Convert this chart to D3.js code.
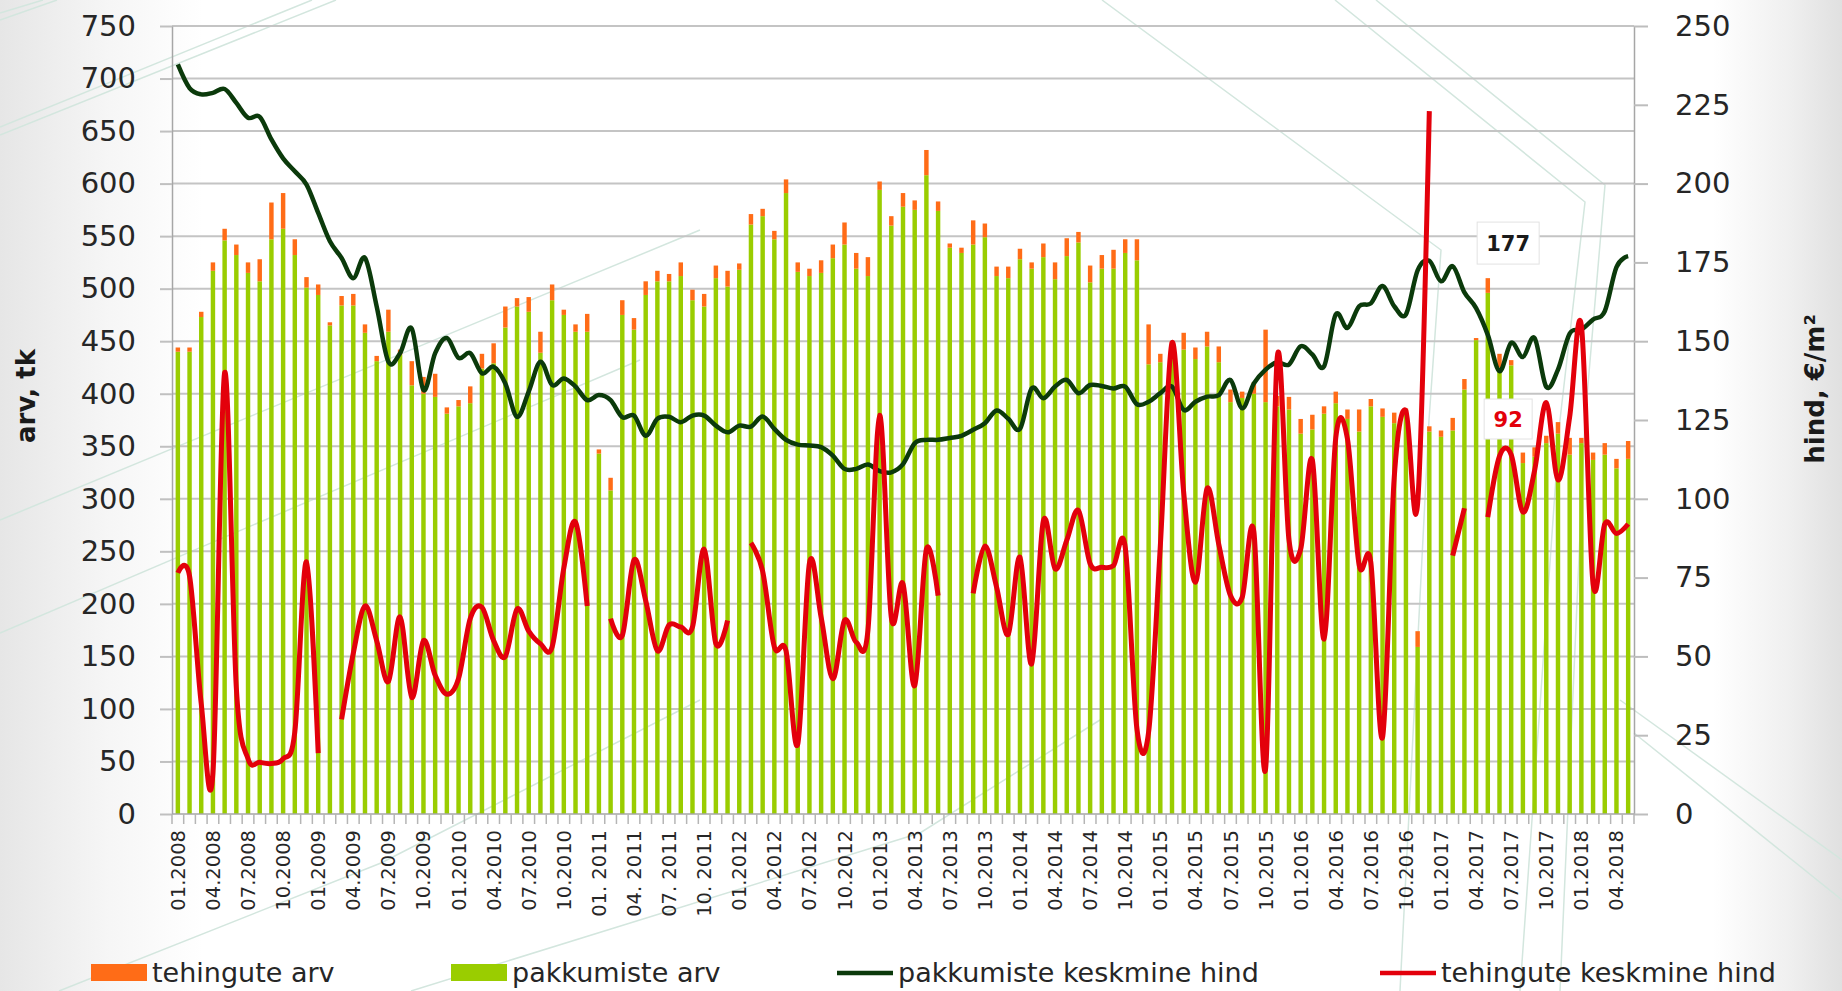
<!DOCTYPE html>
<html>
<head>
<meta charset="utf-8">
<script src="https://cdn.jsdelivr.net/npm/d3@7"></script>
<style>
  body { margin: 0; background: #fff; }
  svg text { font-family: "DejaVu Sans", sans-serif; }
</style>
</head>
<body>
<div id="chart"></div>
<script>
// Tick labels under the axis, one every 3rd month (the 2011 ones have a space in the source)
const tickLabels = [
  "01.2008", "04.2008", "07.2008", "10.2008",
  "01.2009", "04.2009", "07.2009", "10.2009",
  "01.2010", "04.2010", "07.2010", "10.2010",
  "01. 2011", "04. 2011", "07. 2011", "10. 2011",
  "01.2012", "04.2012", "07.2012", "10.2012",
  "01.2013", "04.2013", "07.2013", "10.2013",
  "01.2014", "04.2014", "07.2014", "10.2014",
  "01.2015", "04.2015", "07.2015", "10.2015",
  "01.2016", "04.2016", "07.2016", "10.2016",
  "01.2017", "04.2017", "07.2017", "10.2017",
  "01.2018", "04.2018"
];

// pakkumiste arv (green part of the column), 01.2008 .. 05.2018
const offers = [
  440, 440, 473, 517, 546, 532, 515, 507, 547, 557,
  532, 501, 494, 465, 484, 484, 458, 431, 459, 437,
  408, 400, 397, 381, 388, 391, 424, 429, 463, 483,
  478, 439, 489, 475, 459, 459, 343, 308, 475, 461,
  494, 507, 507, 512, 489, 483, 510, 502, 518, 561,
  569, 547, 591, 516, 512, 515, 529, 542, 519, 512,
  594, 560, 578, 575, 608, 574, 539, 534, 542, 549,
  512, 510, 528, 519, 530, 509, 531, 544, 506, 519,
  519, 534, 527, 428, 430, 440, 442, 433, 445, 430,
  392, 396, 400, 392, 388, 385, 362, 366, 381, 391,
  376, 364, 388, 378, 372, 380, 159, 364, 359, 365,
  404, 451, 496, 425, 427, 334, 340, 353, 362, 342,
  353, 337, 342, 329, 338
];

// tehingute arv (orange part stacked on top)
const deals = [
  4, 4, 5, 8, 11, 10, 10, 21, 35, 34,
  15, 10, 10, 3, 9, 11, 8, 5, 21, 5,
  23, 16, 22, 6, 6, 16, 14, 19, 20, 8,
  14, 20, 15, 5, 7, 17, 4, 12, 14, 11,
  13, 10, 7, 13, 10, 12, 12, 15, 6, 10,
  7, 8, 13, 9, 7, 12, 13, 21, 15, 18,
  8, 9, 13, 9, 24, 9, 4, 5, 23, 13,
  9, 11, 10, 6, 13, 16, 17, 10, 16, 13,
  18, 13, 20, 38, 8, 10, 16, 11, 14, 15,
  12, 6, 11, 69, 10, 12, 14, 14, 7, 11,
  9, 21, 7, 8, 10, 6, 15, 5, 6, 12,
  10, 2, 14, 13, 5, 10, 9, 7, 11, 16,
  5, 7, 11, 9, 17
];

// pakkumiste keskmine hind, €/m2 (right axis)
const offerPrice = [
  237.8, 230.3, 228.3, 228.8, 230, 225.6, 220.9, 221.2, 214, 208,
  203.9, 199.7, 190.7, 181.7, 176.4, 170, 176.4, 161, 143.5, 146.2,
  154, 134.5, 146.2, 151, 144.7, 146.2, 139.8, 141.9, 136.6, 126,
  134, 143.5, 136.1, 138.2, 135.6, 131.3, 132.9, 131.3, 125.9, 126.4,
  120, 125.4, 126, 124.3, 126.4, 126.4, 123.2, 121.1, 123.2, 122.9,
  126.1, 122.2, 118.7, 117.2, 116.9, 116.4, 113.7, 109.5, 109.5, 110.9,
  108.8, 108.4, 111, 117.6, 118.7, 118.7, 119.3, 120, 121.9, 124,
  128, 125.4, 122.2, 135, 131.9, 135.6, 137.7, 133.5, 136.1, 135.8,
  135, 135.6, 130, 130.8, 133.5, 135.6, 128.2, 130.8, 132.4, 132.9,
  137.7, 128.7, 136.6, 141, 143.3, 142.6, 148.4, 145.8, 142, 158.5,
  154.2, 161.1, 162, 167.5, 161.1, 158.5, 172.5, 175.5, 169, 173.8,
  165.5, 160.5, 152, 140.5, 149.5, 145, 151, 135.5, 141, 152.4,
  153.7, 156.9, 159.5, 173.5, 177
];

// tehingute keskmine hind, €/m2 (right axis) - null where there were no deals
const dealPrice = [
  76.5, 75.5, 35, 13, 140, 40, 17.5, 16.4, 16, 17.5,
  26, 80, 19.3, null, 30, 51, 66, 55, 42, 62.5,
  37, 55, 44, 38, 43, 62, 65.6, 55, 50, 65,
  58, 54, 53, 78, 92.6, 66, null, 62, 56.6, 80.6,
  67.7, 51.8, 60, 59.3, 59.3, 84, 54, 61.4, null, 86,
  77, 53, 51.8, 22.2, 79.6, 62.4, 42.9, 61.4, 54.5, 58.2,
  126.5, 62.4, 73, 40.7, 84, 69.3, null, null, 70, 85,
  72, 57, 81.5, 47.6, 93, 77.8, 86.8, 96.3, 79.4, 78.3,
  78.8, 84.7, 27, 26, 85, 149.5, 102, 73.5, 103.3, 85.5,
  69.3, 68.7, 89.5, 14.3, 145, 87, 84, 112.3, 55.5, 119.3,
  119, 79, 79.8, 24.3, 106.8, 128, 98.5, 223, null, 82,
  97, null, 94.2, 113.5, 114, 95.8, 109, 130.5, 106, 126,
  155, 73, 92, 89, 92
];

// Canvas and plot frame
const width = 1842;
const height = 991;
const plotLeft = 172, plotRight = 1634, plotTop = 26, plotBottom = 814;

const svg = d3.select("#chart")
  .append("svg")
  .attr("width", width)
  .attr("height", height);

// Slide background: grey fade on both sides, white in the middle
const defs = svg.append("defs");
const bg = defs.append("linearGradient").attr("id", "bg");
[[0, "#e6e6e6"], [0.06, "#f6f6f6"], [0.11, "#ffffff"], [0.93, "#ffffff"], [0.97, "#f0f0f0"], [1, "#e0e0e0"]]
  .forEach(([o, c]) => bg.append("stop").attr("offset", o).attr("stop-color", c));
svg.append("rect").attr("width", width).attr("height", height).attr("fill", "url(#bg)");

// The faint diagonal strokes of the slide template
const deco = [
  [[0, 13], [43, 0]], [[0, 20], [57, 0]],
  [[0, 127], [312, 0]], [[0, 135], [336, 0]],
  [[0, 520], [700, 230]], [[0, 633], [640, 360]],
  [[59, 991], [381, 863], [700, 700]], [[411, 991], [920, 833], [1100, 720]],
  [[1102, 0], [1441, 250], [1429, 420], [1400, 991]],
  [[1335, 0], [1585, 202], [1560, 420], [1520, 991]],
  [[1376, 0], [1605, 185], [1585, 420], [1560, 991]],
  [[1634, 733], [1842, 900]], [[1620, 700], [1842, 860]]
];
svg.append("g")
  .selectAll("path")
  .data(deco)
  .join("path")
  .attr("d", d3.line())
  .attr("fill", "none")
  .attr("stroke", "#d3e6de")
  .attr("stroke-width", 1.5);

// Scales: one band per month, counts on the left, prices on the right
const months = d3.range(offers.length);
const x = d3.scaleBand()
  .domain(months)
  .range([plotLeft, plotRight])
  .paddingInner(0.62)
  .paddingOuter(0.31);
const cx = i => x(i) + x.bandwidth() / 2;

const yL = d3.scaleLinear().domain([0, 750]).range([plotBottom, plotTop]);
const yR = d3.scaleLinear().domain([0, 250]).range([plotBottom, plotTop]);

// Horizontal gridlines follow the left axis
svg.append("g")
  .selectAll("line")
  .data(d3.range(50, 751, 50))
  .join("line")
  .attr("x1", plotLeft)
  .attr("x2", plotRight)
  .attr("y1", d => yL(d))
  .attr("y2", d => yL(d))
  .attr("stroke", "#c4c4c4")
  .attr("stroke-width", 2);

// Left axis
const gL = svg.append("g")
  .attr("transform", `translate(${plotLeft},0)`)
  .call(d3.axisLeft(yL).tickValues(d3.range(0, 751, 50)).tickSize(12).tickSizeOuter(0).tickPadding(24));
gL.attr("font-family", "DejaVu Sans").attr("font-size", 29);
gL.selectAll("text").attr("fill", "#262626");
gL.selectAll(".tick line").attr("stroke", "#c0c0c0").attr("stroke-width", 2);
gL.select(".domain").attr("stroke", "#a6a6a6").attr("stroke-width", 1.5);

// Right axis
const gR = svg.append("g")
  .attr("transform", `translate(${plotRight},0)`)
  .call(d3.axisRight(yR).tickValues(d3.range(0, 251, 25)).tickSize(14).tickSizeOuter(0).tickPadding(27));
gR.attr("font-family", "DejaVu Sans").attr("font-size", 29);
gR.selectAll("text").attr("fill", "#262626");
gR.selectAll(".tick line").attr("stroke", "#bdbdbd").attr("stroke-width", 2);
gR.select(".domain").attr("stroke", "#a6a6a6").attr("stroke-width", 1.5);

// Columns: offers at the bottom, deals stacked on top
svg.append("g")
  .selectAll("rect")
  .data(months)
  .join("rect")
  .attr("x", i => x(i))
  .attr("width", x.bandwidth())
  .attr("y", i => yL(offers[i]))
  .attr("height", i => yL(0) - yL(offers[i]))
  .attr("fill", "#9acd00");

svg.append("g")
  .selectAll("rect")
  .data(months)
  .join("rect")
  .attr("x", i => x(i))
  .attr("width", x.bandwidth())
  .attr("y", i => yL(offers[i] + deals[i]))
  .attr("height", i => yL(offers[i]) - yL(offers[i] + deals[i]))
  .attr("fill", "#ff6c17");

// Category axis: baseline, a small tick between every month, rotated labels every 3rd month
svg.append("line")
  .attr("x1", plotLeft).attr("x2", plotRight)
  .attr("y1", yL(0)).attr("y2", yL(0))
  .attr("stroke", "#a6a6a6")
  .attr("stroke-width", 1.5);

svg.append("g")
  .selectAll("line")
  .data(d3.range(offers.length + 1))
  .join("line")
  .attr("x1", i => plotLeft + i * x.step())
  .attr("x2", i => plotLeft + i * x.step())
  .attr("y1", yL(0))
  .attr("y2", yL(0) + 10)
  .attr("stroke", "#b5b5b5")
  .attr("stroke-width", 1.5);

svg.append("g")
  .selectAll("text")
  .data(tickLabels)
  .join("text")
  .attr("transform", (d, i) => `translate(${cx(i * 3)},${yL(0) + 16}) rotate(-90)`)
  .attr("text-anchor", "end")
  .attr("dy", "0.36em")
  .style("font-size", "19.5px")
  .attr("fill", "#262626")
  .text(d => d);

// Price lines, smoothed like the spreadsheet version
const priceLine = d3.line()
  .defined(d => d != null)
  .x((d, i) => cx(i))
  .y(d => yR(d))
  .curve(d3.curveCardinal.tension(0));

svg.append("path")
  .attr("d", priceLine(offerPrice))
  .attr("fill", "none")
  .attr("stroke", "#0b3a0b")
  .attr("stroke-width", 4.5)
  .attr("stroke-linejoin", "round");

svg.append("path")
  .attr("d", priceLine(dealPrice))
  .attr("fill", "none")
  .attr("stroke", "#e3000b")
  .attr("stroke-width", 5)
  .attr("stroke-linejoin", "round");

// Value boxes for the latest month
const last = offers.length - 1;
const labels = [
  { value: offerPrice[last], color: "#1a1a1a", w: 62, h: 42, dy: -13 },
  { value: dealPrice[last], color: "#e3000b", w: 48, h: 40, dy: -105 }
];
labels.forEach(l => {
  const bx = cx(last) - 120;
  const by = yR(l.value) + l.dy;
  svg.append("rect")
    .attr("x", bx - l.w / 2)
    .attr("y", by - l.h / 2)
    .attr("width", l.w)
    .attr("height", l.h)
    .attr("fill", "#fff")
    .attr("stroke", "#e2e2e2")
    .attr("stroke-width", 1);
  svg.append("text")
    .attr("x", bx)
    .attr("y", by)
    .attr("text-anchor", "middle")
    .attr("dy", "0.36em")
    .style("font-size", "21px")
    .style("font-weight", "bold")
    .attr("fill", l.color)
    .text(d3.format(".0f")(l.value));
});

// Axis titles
svg.append("text")
  .attr("transform", "translate(26,396) rotate(-90)")
  .attr("text-anchor", "middle")
  .attr("dy", "0.36em")
  .style("font-size", "26px")
  .style("font-weight", "bold")
  .attr("fill", "#1a1a1a")
  .text("arv, tk");

svg.append("text")
  .attr("transform", "translate(1815,389) rotate(-90)")
  .attr("text-anchor", "middle")
  .attr("dy", "0.36em")
  .style("font-size", "26px")
  .style("font-weight", "bold")
  .attr("fill", "#1a1a1a")
  .text("hind, €/m²");

// LEGEND along the bottom edge (kept just above the edge so descenders show)
const legend = svg.append("g");
const legendItems = [
  { label: "tehingute arv", color: "#ff6c17", type: "box", x: 91 },
  { label: "pakkumiste arv", color: "#9acd00", type: "box", x: 451 },
  { label: "pakkumiste keskmine hind", color: "#0b3a0b", type: "line", x: 837 },
  { label: "tehingute keskmine hind", color: "#e3000b", type: "line", x: 1380 }
];
legendItems.forEach(d => {
  if (d.type === "box") {
    legend.append("rect")
      .attr("x", d.x).attr("y", 964)
      .attr("width", 56).attr("height", 17)
      .attr("fill", d.color);
  } else {
    legend.append("line")
      .attr("x1", d.x).attr("x2", d.x + 56)
      .attr("y1", 973).attr("y2", 973)
      .attr("stroke", d.color)
      .attr("stroke-width", 4.5);
  }
  legend.append("text")
    .attr("x", d.x + 61)
    .attr("y", 982)
    .style("font-size", "27px")
    .attr("fill", "#262626")
    .text(d.label);
});
</script>
</body>
</html>
